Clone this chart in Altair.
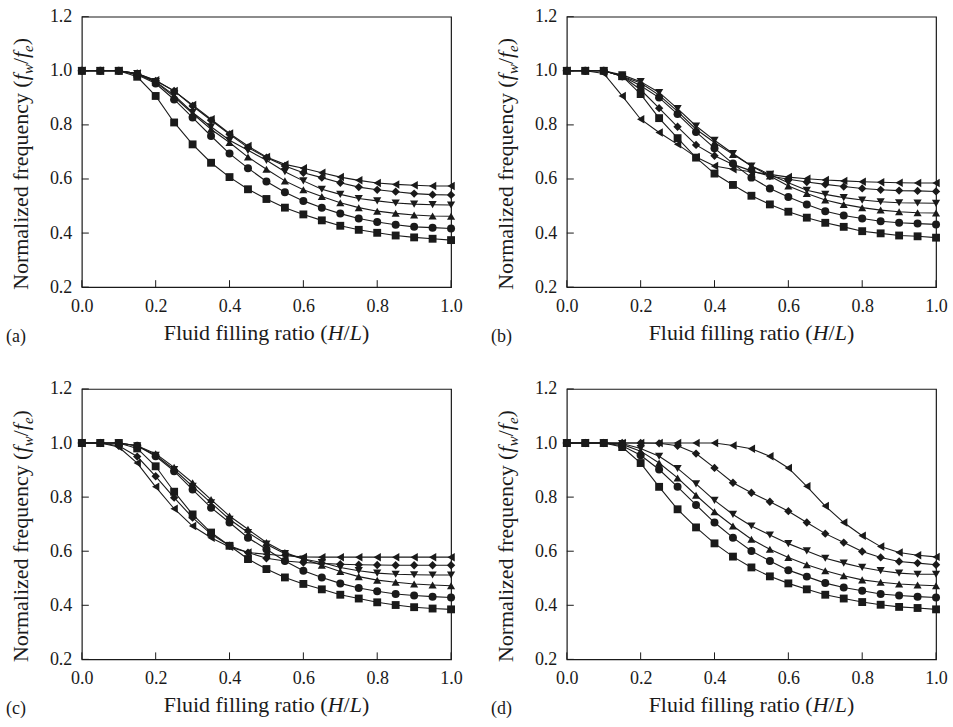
import altair as alt
import pandas as pd

# ---------------- data ----------------
X_VALUES = [0.0, 0.05, 0.1, 0.15, 0.2, 0.25, 0.3, 0.35, 0.4, 0.45, 0.5,
            0.55, 0.6, 0.65, 0.7, 0.75, 0.8, 0.85, 0.9, 0.95, 1.0]
SERIES = ["square", "circle", "triangle-up", "triangle-down", "diamond", "triangle-left"]

# panel (a)
sq_a = [1, 1, 1, 0.978, 0.907, 0.809, 0.728, 0.660, 0.607, 0.562, 0.526, 0.494, 0.469, 0.447, 0.427, 0.412, 0.401, 0.391, 0.384, 0.379, 0.374]
ci_a = [1, 1, 1, 0.985, 0.953, 0.894, 0.827, 0.759, 0.694, 0.640, 0.591, 0.551, 0.519, 0.494, 0.472, 0.454, 0.441, 0.431, 0.423, 0.420, 0.417]
tu_a = [1, 1, 1, 0.988, 0.958, 0.904, 0.842, 0.784, 0.735, 0.681, 0.636, 0.593, 0.560, 0.535, 0.512, 0.494, 0.481, 0.473, 0.467, 0.463, 0.462]
td_a = [1, 1, 1, 0.990, 0.960, 0.910, 0.846, 0.793, 0.743, 0.706, 0.669, 0.627, 0.593, 0.562, 0.543, 0.528, 0.519, 0.511, 0.507, 0.505, 0.504]
di_a = [1, 1, 1, 0.990, 0.963, 0.926, 0.870, 0.817, 0.765, 0.716, 0.679, 0.648, 0.623, 0.605, 0.586, 0.570, 0.560, 0.553, 0.546, 0.542, 0.541]
tl_a = [1, 1, 1, 0.990, 0.965, 0.925, 0.874, 0.821, 0.768, 0.722, 0.681, 0.654, 0.640, 0.623, 0.607, 0.595, 0.585, 0.580, 0.577, 0.574, 0.574]

# panel (b)
sq_b = [1, 1, 1, 0.980, 0.914, 0.825, 0.751, 0.679, 0.620, 0.578, 0.538, 0.506, 0.479, 0.457, 0.438, 0.423, 0.407, 0.399, 0.391, 0.388, 0.383]
ci_b = [1, 1, 1, 0.980, 0.945, 0.901, 0.840, 0.774, 0.714, 0.657, 0.605, 0.565, 0.533, 0.506, 0.481, 0.465, 0.454, 0.444, 0.438, 0.435, 0.432]
tu_b = [1, 1, 1, 0.980, 0.955, 0.910, 0.850, 0.784, 0.735, 0.691, 0.648, 0.611, 0.574, 0.546, 0.522, 0.506, 0.494, 0.485, 0.479, 0.475, 0.474]
td_b = [1, 1, 1, 0.985, 0.960, 0.920, 0.860, 0.796, 0.743, 0.694, 0.648, 0.617, 0.586, 0.558, 0.543, 0.531, 0.522, 0.516, 0.512, 0.511, 0.510]
di_b = [1, 1, 1, 0.980, 0.930, 0.862, 0.793, 0.726, 0.686, 0.654, 0.630, 0.611, 0.599, 0.589, 0.580, 0.572, 0.565, 0.560, 0.557, 0.556, 0.554]
tl_b = [1, 1, 0.990, 0.907, 0.821, 0.772, 0.728, 0.681, 0.648, 0.636, 0.627, 0.617, 0.607, 0.601, 0.596, 0.593, 0.590, 0.588, 0.586, 0.585, 0.585]

# panel (c)
sq_c = [1, 1, 1, 0.980, 0.914, 0.820, 0.736, 0.669, 0.620, 0.571, 0.534, 0.503, 0.479, 0.459, 0.439, 0.425, 0.411, 0.401, 0.393, 0.388, 0.385]
ci_c = [1, 1, 1, 0.990, 0.951, 0.896, 0.828, 0.761, 0.706, 0.650, 0.607, 0.564, 0.528, 0.503, 0.481, 0.464, 0.452, 0.442, 0.436, 0.432, 0.429]
tu_c = [1, 1, 1, 0.990, 0.960, 0.910, 0.853, 0.791, 0.730, 0.681, 0.632, 0.595, 0.571, 0.548, 0.525, 0.506, 0.493, 0.485, 0.479, 0.475, 0.472]
td_c = [1, 1, 1, 0.990, 0.955, 0.902, 0.840, 0.779, 0.718, 0.669, 0.626, 0.591, 0.571, 0.558, 0.540, 0.528, 0.519, 0.515, 0.513, 0.512, 0.512]
di_c = [1, 1, 0.990, 0.950, 0.877, 0.798, 0.724, 0.663, 0.620, 0.595, 0.574, 0.564, 0.558, 0.555, 0.552, 0.550, 0.549, 0.548, 0.548, 0.548, 0.548]
tl_c = [1, 1, 0.985, 0.926, 0.838, 0.757, 0.693, 0.650, 0.616, 0.595, 0.589, 0.583, 0.579, 0.578, 0.578, 0.578, 0.578, 0.578, 0.578, 0.578, 0.578]

# panel (d)
sq_d = [1, 1, 1, 0.985, 0.926, 0.838, 0.755, 0.688, 0.629, 0.580, 0.540, 0.507, 0.481, 0.459, 0.439, 0.425, 0.412, 0.402, 0.394, 0.390, 0.385]
ci_d = [1, 1, 1, 0.990, 0.955, 0.902, 0.838, 0.771, 0.706, 0.650, 0.601, 0.564, 0.530, 0.506, 0.482, 0.466, 0.454, 0.442, 0.436, 0.432, 0.429]
tu_d = [1, 1, 1, 0.995, 0.970, 0.926, 0.871, 0.807, 0.746, 0.693, 0.644, 0.607, 0.577, 0.550, 0.528, 0.509, 0.494, 0.485, 0.479, 0.475, 0.472]
td_d = [1, 1, 1, 0.998, 0.980, 0.951, 0.906, 0.849, 0.788, 0.736, 0.693, 0.660, 0.628, 0.601, 0.574, 0.556, 0.540, 0.528, 0.519, 0.515, 0.515]
di_d = [1, 1, 1, 1, 1, 0.999, 0.990, 0.961, 0.908, 0.853, 0.816, 0.783, 0.748, 0.706, 0.665, 0.632, 0.599, 0.577, 0.562, 0.556, 0.550]
tl_d = [1, 1, 1, 1, 1, 1, 1, 1, 1, 0.991, 0.979, 0.951, 0.908, 0.840, 0.767, 0.706, 0.657, 0.617, 0.595, 0.585, 0.579]

PANELS = [
    ("(a)", [sq_a, ci_a, tu_a, td_a, di_a, tl_a]),
    ("(b)", [sq_b, ci_b, tu_b, td_b, di_b, tl_b]),
    ("(c)", [sq_c, ci_c, tu_c, td_c, di_c, tl_c]),
    ("(d)", [sq_d, ci_d, tu_d, td_d, di_d, tl_d]),
]

X_TICKS = [0.0, 0.2, 0.4, 0.6, 0.8, 1.0]
Y_TICKS = [0.2, 0.4, 0.6, 0.8, 1.0, 1.2]

# ---------------- styling ----------------
INK = "#1a1a1a"
FONT = "Liberation Serif"
W, H = 370, 271
TICK_LEN = 7
LABEL_SIZE = 18
TITLE_SIZE = 22
SUB_SCALE = 0.68
MARKER_SIZES = [62, 72, 95, 95, 85, 95]

# Times / Liberation Serif advance widths (per 1000 em) for layout of mixed-style titles
REG = {" ": 250, "(": 333, ")": 333, "/": 278, "F": 556, "N": 722, "a": 444, "c": 444,
       "d": 500, "e": 444, "f": 333, "g": 500, "i": 278, "l": 278, "m": 778, "n": 500,
       "o": 500, "q": 500, "r": 333, "t": 278, "u": 500, "y": 500, "z": 444}
ITA = {"H": 722, "L": 556, "f": 278, "w": 667, "e": 444}


def tw(text, size, italic=False):
    tab = ITA if italic else REG
    return sum(tab.get(c, 500) for c in text) / 1000.0 * size


def text_layer(txt, x, y, size, italic=False, angle=0, align="left"):
    props = dict(text=txt, font=FONT, fontSize=size, color=INK, align=align,
                 baseline="alphabetic")
    if italic:
        props["fontStyle"] = "italic"
    if angle:
        props["angle"] = angle
    return alt.Chart(pd.DataFrame({"t": [txt]})).mark_text(**props).encode(
        x=alt.value(x), y=alt.value(y))


def x_title_layers():
    pieces = [("Fluid filling ratio (", False), ("H", True), ("/", False),
              ("L", True), (")", False)]
    total = sum(tw(p, TITLE_SIZE, it) for p, it in pieces)
    x0 = W / 2 - total / 2
    yb = H + 53
    out = []
    for p, it in pieces:
        out.append(text_layer(p, x0, yb, TITLE_SIZE, italic=it))
        x0 += tw(p, TITLE_SIZE, it)
    return out


def y_title_layers():
    sub = TITLE_SIZE * SUB_SCALE
    pieces = [("Normalized frequency (", TITLE_SIZE, False, 0),
              ("f", TITLE_SIZE, True, 0),
              ("w", sub, True, 0.22 * TITLE_SIZE),
              ("/", TITLE_SIZE, False, 0),
              ("f", TITLE_SIZE, True, 0),
              ("e", sub, True, 0.22 * TITLE_SIZE),
              (")", TITLE_SIZE, False, 0)]
    total = sum(tw(p, s, it) for p, s, it, _ in pieces)
    xb = -54
    y0 = H / 2 + total / 2 + 12
    out = []
    for p, s, it, dx in pieces:
        out.append(text_layer(p, xb + dx, y0, s, italic=it, angle=270))
        y0 -= tw(p, s, it)
    return out


def make_panel(letter, series_vals):
    rows = []
    for name, vals in zip(SERIES, series_vals):
        for xv, yv in zip(X_VALUES, vals):
            rows.append({"series": name, "x": xv, "y": yv})
    df = pd.DataFrame(rows)

    xenc = alt.X("x:Q", scale=alt.Scale(domain=[0, 1], nice=False, zero=False),
                 axis=alt.Axis(values=X_TICKS, format=".1f", title=None))
    yenc = alt.Y("y:Q", scale=alt.Scale(domain=[0.2, 1.2], nice=False, zero=False),
                 axis=alt.Axis(values=Y_TICKS, format=".1f", title=None))

    base = alt.Chart(df)
    lines = base.mark_line(color=INK, strokeWidth=1.1).encode(
        x=xenc, y=yenc, detail="series:N")
    pts = base.mark_point(filled=True, opacity=1, color=INK).encode(
        x=xenc, y=yenc,
        shape=alt.Shape("series:N", scale=alt.Scale(domain=SERIES, range=SERIES),
                        legend=None),
        size=alt.Size("series:N", scale=alt.Scale(domain=SERIES, range=MARKER_SIZES),
                      legend=None))

    xt = alt.Chart(pd.DataFrame({"x": X_TICKS})).mark_rule(
        color=INK, strokeWidth=1).encode(
        x=alt.X("x:Q"), y=alt.value(H), y2=alt.value(H - TICK_LEN))
    yt = alt.Chart(pd.DataFrame({"y": Y_TICKS})).mark_rule(
        color=INK, strokeWidth=1).encode(
        y=alt.Y("y:Q"), x=alt.value(0), x2=alt.value(TICK_LEN))

    lab = text_layer(letter, -76, H + 55, LABEL_SIZE)

    layers = [xt, yt, lines, pts, lab] + x_title_layers() + y_title_layers()
    return alt.layer(*layers).properties(width=W, height=H)


panels = [make_panel(l, v) for l, v in PANELS]

chart = alt.concat(
    *panels, columns=2, spacing={"row": 102, "column": 116}, bounds="flush"
).properties(
    padding={"left": 5, "top": 6, "right": 5, "bottom": 5},
    background="white",
).configure_view(
    stroke=INK, strokeWidth=1.2
).configure_axis(
    grid=False, domain=False, ticks=False, tickSize=0,
    labelFont=FONT, labelFontSize=LABEL_SIZE, labelColor=INK,
    labelPadding=10, labelOverlap=False, labelFlush=False,
)

chart.save("out.html", embed_options={"renderer": "svg", "actions": False})
